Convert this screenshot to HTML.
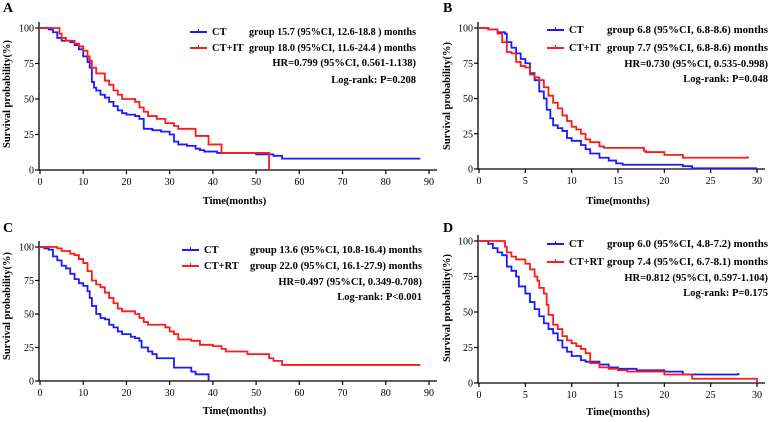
<!DOCTYPE html>
<html><head><meta charset="utf-8"><style>
body{margin:0;background:#fff}
svg{display:block;font-family:"Liberation Serif",serif}
.t{font-size:10.5px;font-weight:bold}
.tk{font-size:10px}
</style></head><body>
<svg id="s" width="777" height="422" viewBox="0 0 777 422" xmlns="http://www.w3.org/2000/svg"></svg>
<script>
const NS="http://www.w3.org/2000/svg";
// Panel A data [time, survival%]
const aCT=[[0,100],[2,99],[3,97],[4,93],[5,91],[7,90],[8,88],[9,85],[10,80],[11,76],[11.5,72],[12,62],[12.5,58],[13,56],[14,53],[15,51],[16,48],[17,45],[18,42],[19,40],[20,39],[22,38],[23,36],[24,29],[26,28],[28,27],[30,25],[31,20],[32,18],[34,17],[36,15],[37,14],[38,13],[41,12],[50,11],[54,10],[56,8],[88,8]];
const aIT=[[0,100],[4.5,96],[5,93],[6,91],[8,89],[9,87],[10,84],[11,80],[11.5,77],[12,72],[13,68],[15,63],[16,60],[17,56],[18,53],[19,50],[22,48],[23,44],[24,41],[25,38],[27,36],[29,33],[31,31],[32,29],[36,24],[39,18],[42,12],[53,12],[53,0]];
// Panel B
const bCT=[[0,100],[1,99],[2,97],[2.8,96],[3,90],[3.5,86],[4,82],[4.5,78],[5,75],[5.5,68],[6,63],[6.5,55],[7,50],[7.3,42],[7.7,36],[8,31],[8.5,29],[9,27],[9.5,22],[10,20],[11,17],[11.5,14],[12,11],[13,8],[14,6],[14.8,4],[15.5,3],[22,2],[23,0.5],[30,0.5]];
const bIT=[[0,100],[1,99],[2,96],[2.5,90],[3,83],[3.5,82],[4,76],[4.5,73],[5,72],[5.5,67],[6,65],[6.5,63],[7,58],[7.5,52],[8,47],[8.5,43],[9,38],[9.5,34],[10,30],[10.5,28],[11,25],[11.5,21],[12,19],[13,16],[13.5,15],[17.8,13],[18,12],[20,10],[22,8],[29,8],[29,9]];
// Panel C
const cCT=[[0,100],[1,99],[2,98],[3,93],[4,90],[5,86],[6,84],[7,80],[8,76],[9,73],[10,71],[11,67],[11.5,62],[12,56],[13,50],[14,47],[15,46],[16,42],[17,40],[18,37],[19,35],[21,33],[22,32],[23,30],[23.5,25],[25,22],[26,20],[27,17],[30,17],[31,10],[35,7],[36,5],[38,5],[39,0]];
const cRT=[[0,100],[4,99],[5,97],[7,95],[8,94],[9,91],[10,88],[11,82],[12,75],[13,72],[14,70],[15,66],[16,62],[17,58],[18,54],[19,52],[21,52],[22,50],[23,47],[24,44],[25,42],[28,42],[29,40],[30,37],[31,35],[32,31],[35,30],[37,27],[40,26],[42,24],[43,22],[48,20],[53,17],[54,15],[56,12],[88,12]];
// Panel D
const dCT=[[0,100],[1,98],[1.5,95],[2,92],[2.5,90],[3,82],[3.5,79],[4,75],[4.3,68],[5,63],[5.5,57],[6,52],[6.5,47],[7,42],[7.5,38],[8,35],[8.5,30],[9,25],[9.5,22],[10,19],[11,16],[11.5,15],[13,13],[14,11],[15,10],[17,9],[20,8],[22,6],[28,6],[28,7]];
const dRT=[[0,100],[2.8,96],[3,92],[3.5,89],[4,87],[5,84],[5.5,80],[6,75],[6.3,72],[6.5,67],[7,63],[7.3,55],[7.5,48],[8,41],[8.5,38],[9,33],[9.5,30],[10,28],[10.5,26],[11,24],[11.5,21],[12,14],[13,11],[14,10],[15,9],[16,8],[20,6],[23,3],[30,3],[30,0]];
const yTicks=[0,25,50,75,100];
const xTicks90=[0,10,20,30,40,50,60,70,80,90];
const xTicks30=[0,5,10,15,20,25,30];

const svg=document.getElementById('s');
function el(tag,attrs,parent,text){const e=document.createElementNS(NS,tag);for(const k in attrs)e.setAttribute(k,attrs[k]);if(text!==undefined)e.textContent=text;(parent||svg).appendChild(e);return e;}

const panels=[
 {id:'a',L:'A',lx:3,ly:12,x0:40,x1:429,xmax:90,y0:170,y100:28,xt:xTicks90,s1:aCT,s2:aIT,n2:'CT+IT',
  lines:['group 15.7 (95%CI, 12.6-18.8 ) months','group 18.0 (95%CI, 11.6-24.4 ) months','HR=0.799 (95%CI, 0.561-1.138)','Log-rank: P=0.208'],
  legx:190,gx:249,rx:416,rows:[35,51,66,83],ytx:10,yty:94,xty:204},
 {id:'b',L:'B',lx:443,ly:12,x0:479,x1:757,xmax:30,y0:169,y100:28,xt:xTicks30,s1:bCT,s2:bIT,n2:'CT+IT',
  lines:['group 6.8 (95%CI, 6.8-8.6) months','group 7.7 (95%CI, 6.8-8.6) months','HR=0.730 (95%CI, 0.535-0.998)','Log-rank: P=0.048'],
  legx:547,gx:607,rx:768,rows:[33,51,67,82],ytx:450,yty:96,xty:204},
 {id:'c',L:'C',lx:3,ly:232,x0:40,x1:429,xmax:90,y0:381,y100:247,xt:xTicks90,s1:cCT,s2:cRT,n2:'CT+RT',
  lines:['group 13.6 (95%CI, 10.8-16.4) months','group 22.0 (95%CI, 16.1-27.9) months','HR=0.497 (95%CI, 0.349-0.708)','Log-rank: P<0.001'],
  legx:182,gx:250,rx:422,rows:[253,269,285,300],ytx:10,yty:306,xty:414},
 {id:'d',L:'D',lx:443,ly:232,x0:479,x1:757,xmax:30,y0:383,y100:241,xt:xTicks30,s1:dCT,s2:dRT,n2:'CT+RT',
  lines:['group 6.0 (95%CI, 4.8-7.2) months','group 7.4 (95%CI, 6.7-8.1) months','HR=0.812 (95%CI, 0.597-1.104)','Log-rank: P=0.175'],
  legx:547,gx:607,rx:768,rows:[247,265,281,296],ytx:450,yty:308,xty:415}
];

panels.forEach(p=>{
 const g=el('g',{});
 
 
 const X=t=>p.x0+(p.x1-p.x0)*t/p.xmax;
 const Y=v=>p.y0-(p.y0-p.y100)*v/100;
 const lab=el('text',{x:p.lx,y:p.ly,'font-size':14,'font-weight':'bold'},g,p.L);
 
 
 const ax=el('path',{d:`M${p.x0-1} ${p.y100-6}V${p.y0}H${p.x1+8}`,stroke:'#000','stroke-width':1.3,fill:'none'},g);
 
 
 yTicks.forEach(v=>{
  el('line',{x1:p.x0-5,x2:p.x0-1,y1:Y(v),y2:Y(v),stroke:'#000','stroke-width':1.2},g);
  const t=el('text',{x:p.x0-6,y:Y(v)+3.5,'text-anchor':'end',class:'tk'},g,v);
  
  
 });
 p.xt.forEach(v=>{
  el('line',{x1:X(v),x2:X(v),y1:p.y0,y2:p.y0+4,stroke:'#000','stroke-width':1.2},g);
  const t=el('text',{x:X(v),y:p.y0+15,'text-anchor':'middle',class:'tk'},g,v);
  
  
 });
 const xt=el('text',{x:(p.x0+p.x1)/2,y:p.xty,'text-anchor':'middle',class:'t','font-size':11},g,'Time(months)');
 
 
 const yt=el('text',{x:0,y:0,transform:`translate(${p.ytx},${p.yty}) rotate(-90)`,'text-anchor':'middle',class:'t','font-size':11},g,'Survival probability(%)');
 
 
 [[p.s1,'#1a1aff','ct'],[p.s2,'#ff1a1a','treat']].forEach(([s,c,n])=>{
  let d=`M${X(s[0][0])} ${Y(s[0][1])}`;
  for(let i=1;i<s.length;i++){d+=`H${X(s[i][0])}V${Y(s[i][1])}`;}
  const path=el('path',{d,stroke:c,'stroke-width':1.8,fill:'none'},g);
  
  
 });
 const names=['CT',p.n2],cols=['#1a1aff','#ff1a1a'];
 [0,1].forEach(i=>{
  const yy=p.rows[i]-3;
  const ln=el('line',{x1:p.legx,x2:p.legx+17,y1:yy,y2:yy,stroke:cols[i],'stroke-width':2},g);
  
  
  el('line',{x1:p.legx+8.5,x2:p.legx+8.5,y1:yy-3,y2:yy,stroke:cols[i],'stroke-width':1},g);
  const nt=el('text',{x:p.legx+22,y:p.rows[i],class:'t','font-size':11},g,names[i]);
  
  
 });
 [0,1,2,3].forEach(i=>{
  const attrs={x:p.rx,y:p.rows[i],'text-anchor':'end',class:'t'};
  if(i<2){attrs.textLength=p.rx-p.gx;attrs.lengthAdjust='spacingAndGlyphs';}
  const t=el('text',attrs,g,p.lines[i]);
  
  
 });
});
</script>
</body></html>
